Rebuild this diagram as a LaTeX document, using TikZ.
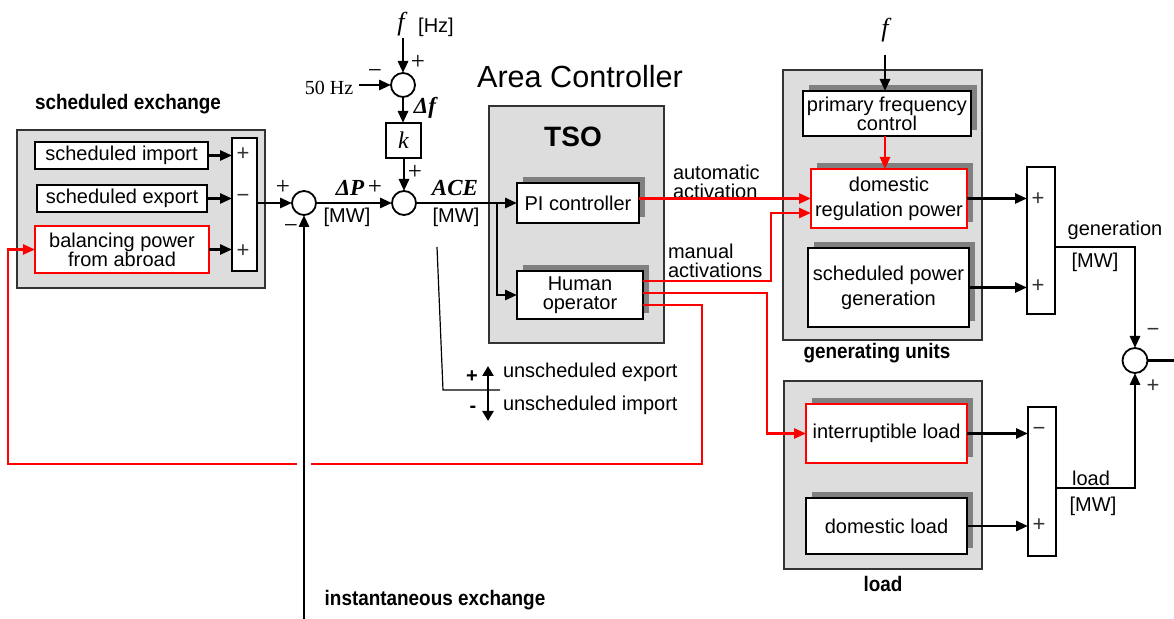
\documentclass[tikz,border=0pt]{standalone}
\usepackage{fontspec}
\setmainfont{Liberation Sans}
\newfontfamily\tms{Liberation Serif}
\newfontfamily\nb{Liberation Sans}[FakeStretch=0.9]
\usetikzlibrary{arrows.meta,shadows,calc}
\definecolor{bggray}{RGB}{221,221,221}
\definecolor{shgray}{RGB}{128,128,128}
\definecolor{myred}{RGB}{255,0,0}
\begin{document}
\begin{tikzpicture}[x=0.5pt,y=-0.5pt,
  every node/.style={inner sep=0pt, outer sep=0pt, font=\fontsize{10}{9.5}\selectfont},
  bx/.style 2 args={minimum width=#1*0.5pt, minimum height=#2*0.5pt},
  group/.style={draw=black!80, fill=bggray, line width=0.8pt},
  blk/.style={draw=black, fill=white, line width=0.9pt, align=center},
  sh/.style={drop shadow={shadow xshift=3.2pt, shadow yshift=3pt, fill=shgray, opacity=1}},
  redblk/.style={blk, draw=myred, line width=0.9pt},
  sumbar/.style={draw=black, fill=white, line width=0.9pt},
  junc/.style={circle, draw=black, fill=white, line width=0.9pt, minimum size=12pt},
  arr/.style={line width=1.4pt, -{Triangle[length=6pt,width=5pt]}},
  rarr/.style={arr, draw=myred, line width=1.3pt},
  rthin/.style={line width=0.6pt, draw=myred},
  blkline/.style={line width=1.4pt},
  ttl/.style={font=\nb\bfseries\fontsize{10.5}{12}\selectfont},
  sgn/.style={font=\fontsize{11}{11}\selectfont, text=black!80},
  srf/.style={font=\tms\fontsize{12.5}{12.5}\selectfont},
  bi/.style={font=\tms\bfseries\itshape\fontsize{11.5}{12}\selectfont},
  fi/.style={font=\tms\itshape\fontsize{13}{13}\selectfont},
  lbl/.style={align=left, anchor=west}
]
\useasboundingbox (0,0) rectangle (1174,619);

% group backgrounds
\node[group, bx={248}{158}] (schedbg) at (141,209) {};
\node[group, bx={175}{237}] (tsobg) at (576.5,224.5) {};
\node[group, bx={199}{270}] (genbg) at (882.5,205) {};
\node[group, bx={198}{188}] (loadbg) at (883,475) {};

% titles
\node[ttl] (schedT) at (128,104) {scheduled exchange};
\node[ttl] (genT) at (877,353) {generating units};
\node[ttl] (loadT) at (883,584) {load};
\node[ttl] (instT) at (435,600) {instantaneous exchange};
\node[font=\fontsize{15.3}{18}\selectfont] (acT) at (580,77) {Area Controller};
\node[font=\bfseries\fontsize{14}{16}\selectfont] (tsoT) at (573,137) {TSO};

% scheduled exchange
\node[blk, bx={173}{27}] (simp) at (121.5,155.5) {scheduled import};
\node[blk, bx={170}{27}] (sexp) at (122,198.5) {scheduled export};
\node[redblk, bx={174}{47}] (bal) at (122,249.5) {balancing power\\from abroad};
\node[sumbar, bx={25}{133}] (sbar) at (244.5,204.5) {};
\node[sgn] (s1a) at (243,154) {+};
\node[sgn] (s1b) at (243,198) {−};
\node[sgn] (s1c) at (243,251) {+};

% junctions
\node[junc] (j1) at (304,203) {};
\node[junc] (j0) at (403,85) {};
\node[blk, bx={35}{35}, font=\tms\itshape\fontsize{12}{12}\selectfont] (kb) at (403.5,140.5) {k};
\node[junc] (j2) at (404,203) {};

% TSO blocks
\node[blk, sh, bx={122}{40}] (pi) at (578,203) {PI controller};
\node[blk, sh, bx={126}{48}] (hum) at (580,295) {Human\\operator};

% generating units
\node[blk, sh, bx={168}{45}] (pfc) at (887,113.5) {primary frequency\\control};
\node[redblk, sh, bx={156}{59}, font=\fontsize{10}{12.5}\selectfont] (drp) at (889,198.5) {domestic\\regulation power};
\node[blk, sh, bx={161}{79}, font=\fontsize{10}{12.5}\selectfont] (spg) at (888.5,287.5) {scheduled power\\generation};
\node[sumbar, bx={28}{147}] (gbar) at (1041,240.5) {};
\node[sgn] (g1) at (1038,199) {+};
\node[sgn] (g2) at (1038,286) {+};
\node[junc, minimum size=12.5pt] (j3) at (1135,360.5) {};

% load
\node[redblk, sh, bx={161}{59}] (il) at (886.5,433.5) {interruptible load};
\node[blk, sh, bx={161}{56}] (dl) at (886.5,526) {domestic load};
\node[sumbar, bx={28}{149}] (lbar) at (1042,481.5) {};
\node[sgn] (l1) at (1039,431) {−};
\node[sgn] (l2) at (1039,525) {+};

% labels
\node[srf] (p1) at (283,187) {+};
\node[srf] (m1) at (291,229) {−};
\node[bi] (dP) at (350,188) {ΔP};
\node[srf] (p2) at (375,187) {+};
\node (mw1) at (347,217) {[MW]};
\node[bi] (ace) at (455,188) {ACE};
\node (mw2) at (456,217) {[MW]};
\node[bi] (df) at (425,108) {Δf};
\node[srf] (p3) at (418,62) {+};
\node[srf] (m3) at (375,74) {−};
\node[srf] (p4) at (415,172) {+};
\node[fi] (f1) at (401,24) {f};
\node (hz) at (436,27) {[Hz]};
\node[font=\tms\fontsize{10}{10}\selectfont] (n50) at (329,88) {50 Hz};
\node[fi] (f2) at (885,30) {f};
\node[lbl] (autoL) at (673,181.5) {automatic\\activation};
\node[lbl] (manL) at (668,260.5) {manual\\activations};
\node (genL) at (1115,230) {generation};
\node (genMW) at (1095,262) {[MW]};
\node (loadL) at (1091,478) {load};
\node (loadMW) at (1093,506) {[MW]};
\node[sgn] (m5) at (1153,332) {−};
\node[sgn] (p5) at (1153,386) {+};
\node[font=\bfseries\fontsize{10}{10}\selectfont] (up) at (472,377) {+};
\node[font=\bfseries\fontsize{10}{10}\selectfont] (dn) at (473,409) {-};
\node[lbl] (uex) at (503,372) {unscheduled export};
\node[lbl] (uim) at (503,405) {unscheduled import};

% coordinates
\coordinate (fin1) at (403,38);
\coordinate (c50) at (359,85);
\coordinate (inst) at (304,619);
\coordinate (br) at (497,203);
\coordinate (fin2) at (885,55);
\coordinate (outR) at (1174,360.5);
\coordinate (gapR) at (311,464);
\coordinate (gapL) at (297,464);
\coordinate (ldA) at (437,247);
\coordinate (ldB) at (443,390);
\coordinate (ldC) at (500,390);
\coordinate (dA) at (488,366);
\coordinate (dB) at (488,421);

% black connectors
\draw[arr] (simp.east) -- (simp.east -| sbar.west);
\draw[arr] (sexp.east) -- (sexp.east -| sbar.west);
\draw[arr] (bal.east) -- (bal.east -| sbar.west);
\draw[arr] (sbar.east |- j1.west) -- (j1.west);
\draw[arr] (j1.east) -- (j2.west);
\draw[arr] (fin1) -- (j0.north);
\draw[arr] (c50) -- (j0.west);
\draw[arr] (j0.south) -- (j0.south |- kb.north);
\draw[arr] (j2.north |- kb.south) -- (j2.north);
\draw[arr] (inst) -- (j1.south);
\draw[arr] (j2.east) -- (pi.west);
\draw[arr] (br) |- (hum.west);
\draw[arr] (fin2) -- (fin2 |- pfc.north);
\draw[arr] (drp.east) -- (drp.east -| gbar.west);
\draw[arr] (spg.east) -- (spg.east -| gbar.west);
\draw[arr] (gbar.east |- 0,247) -| (j3.north);
\draw[arr] (il.east) -- (il.east -| lbar.west);
\draw[arr] (dl.east) -- (dl.east -| lbar.west);
\draw[arr] (lbar.east |- 0,488) -| (j3.south);
\draw[blkline] (j3.east) -- (outR);
\draw[line width=0.6pt] (ldA) -- (ldB) -- (ldC);
\draw[line width=1.4pt, {Triangle[length=5pt,width=5.5pt]}-{Triangle[length=5pt,width=5.5pt]}] (dA) -- (dB);

% red connectors
\draw[rarr] (pfc.south -| fin2) -- (fin2 |- drp.north);
\draw[rarr] (pi.east |- drp.west) -- (drp.west);
\draw[rarr] (hum.east |- 0,281) -- (771,281) -- (771,213) -- (drp.west |- 0,213);
\draw[rarr] (hum.east |- 0,293) -| (767,433.5) -- (il.west);
\draw[rthin] (hum.east |- 0,305) -| (702,464) -- (gapR);
\draw[rarr] (gapL) -| (8,249.5) -- (bal.west);
\end{tikzpicture}
\end{document}
